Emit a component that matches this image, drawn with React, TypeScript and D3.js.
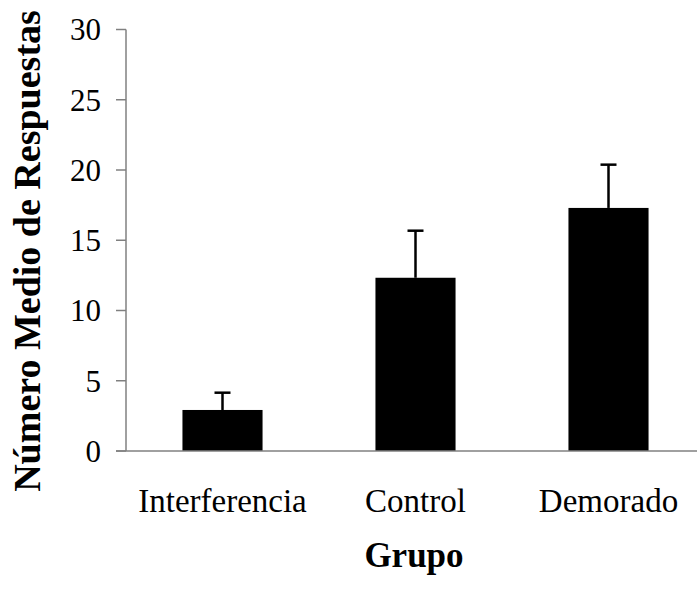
import React from "react";
import * as d3 from "d3";

// data
const groups = ["Interferencia", "Control", "Demorado"];
const means = [2.92, 12.33, 17.3];
const errors = [1.23, 3.35, 3.08];
const yTicks = [0, 5, 10, 15, 20, 25, 30];

const W = 697;
const H = 592;

export default function App() {
  const x = d3.scaleBand<string>()
    .domain(groups)
    .range([126, 705])
    .paddingInner(0.585)
    .paddingOuter(0.2925);

  const y = d3.scaleLinear().domain([0, 30]).range([451, 29.5]);

  const axisColor = "#808080";
  const font = "'Liberation Serif', 'Times New Roman', serif";

  return (
    <svg
      width={W}
      height={H}
      style={{ position: "absolute", left: 0, top: 0, background: "#fff" }}
      fontFamily={font}
    >
      {/* bars */}
      {groups.map((g, i) => (
        <rect
          key={g}
          x={x(g)}
          y={y(means[i])}
          width={x.bandwidth()}
          height={y(0) - y(means[i])}
          fill="#000"
        />
      ))}

      {/* error bars (upper only) */}
      {groups.map((g, i) => {
        const cx = (x(g) as number) + x.bandwidth() / 2;
        const top = y(means[i] + errors[i]);
        return (
          <g key={g} stroke="#000" strokeWidth={2.5}>
            <line x1={cx} x2={cx} y1={y(means[i])} y2={top} />
            <line x1={cx - 8} x2={cx + 8} y1={top} y2={top} />
          </g>
        );
      })}

      {/* y axis */}
      <line x1={126} x2={126} y1={y(30)} y2={y(0)} stroke={axisColor} strokeWidth={1.5} />
      {yTicks.map((t) => (
        <g key={t}>
          <line x1={116} x2={126} y1={y(t)} y2={y(t)} stroke={axisColor} strokeWidth={1.5} />
          <text x={101} y={y(t)} dy="0.35em" textAnchor="end" fontSize={31} fill="#000">
            {t}
          </text>
        </g>
      ))}

      {/* x axis */}
      <line x1={116} x2={W} y1={y(0)} y2={y(0)} stroke={axisColor} strokeWidth={1.5} />
      {groups.map((g) => (
        <text
          key={g}
          x={(x(g) as number) + x.bandwidth() / 2}
          y={512}
          textAnchor="middle"
          fontSize={33}
          fill="#000"
        >
          {g}
        </text>
      ))}

      {/* axis titles */}
      <text x={414} y={567} textAnchor="middle" fontSize={35} fontWeight="bold" fill="#000">
        Grupo
      </text>
      <text
        transform="translate(40,251) rotate(-90)"
        textAnchor="middle"
        fontSize={38}
        fontWeight="bold"
        fill="#000"
      >
        Número Medio de Respuestas
      </text>
    </svg>
  );
}
